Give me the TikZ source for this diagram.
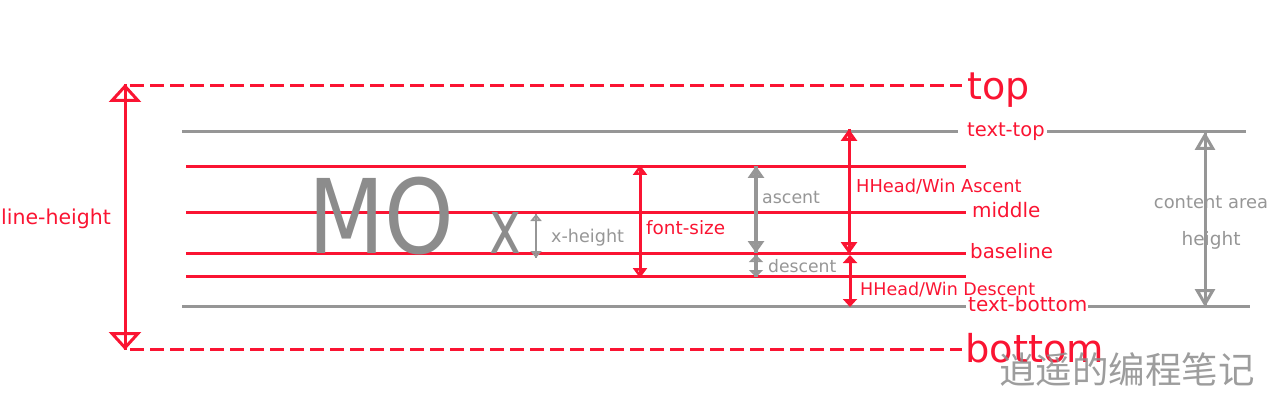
\documentclass[tikz,border=0pt]{standalone}
\usepackage{fontspec}
\setmainfont{DejaVu Sans}
\newfontfamily\cjk{Noto Sans CJK SC}
\usetikzlibrary{arrows.meta}
\definecolor{lred}{RGB}{250,20,50}
\definecolor{lgray}{RGB}{150,150,150}
\definecolor{mogray}{RGB}{140,140,140}
\tikzset{
  redln/.style={draw=lred, line width=3pt},
  grayln/.style={draw=lgray, line width=3pt},
  dashln/.style={draw=lred, line width=3pt, dash pattern=on 14pt off 6pt},
  lbl/.style={inner sep=0pt, anchor=base west, font=\fontsize{#1}{#1}\selectfont},
  lbl/.default=19,
}
\begin{document}
\begin{tikzpicture}[x=1pt,y=-1pt]
\useasboundingbox (0,0) rectangle (1275,409);
% coordinates of lines
\coordinate (topL) at (130,86);   \coordinate (topR) at (962,86);
\coordinate (ttL) at (182,132);   \coordinate (ttR) at (958,132);
\coordinate (ttL2) at (1047,132); \coordinate (ttR2) at (1246,132);
\coordinate (asL) at (186,167);   \coordinate (asR) at (966,167);
\coordinate (mdL) at (186,212);   \coordinate (mdR) at (966,212);
\coordinate (blL) at (186,253);   \coordinate (blR) at (966,253);
\coordinate (dsL) at (186,276);   \coordinate (dsR) at (966,276);
\coordinate (tbL) at (182,306);   \coordinate (tbR) at (966,306);
\coordinate (tbL2) at (1088,306); \coordinate (tbR2) at (1250,306);
\coordinate (btL) at (130,349);   \coordinate (btR) at (962,349);

\draw[dashln] (topL) -- (topR);
\draw[dashln] (btL) -- (btR);
\draw[grayln] (ttL) -- (ttR);
\draw[grayln] (ttL2) -- (ttR2);
\draw[grayln] (tbL) -- (tbR);
\draw[grayln] (tbL2) -- (tbR2);
\draw[redln] (asL) -- (asR);
\draw[redln] (mdL) -- (mdR);
\draw[redln] (blL) -- (blR);
\draw[redln] (dsL) -- (dsR);

% MO and x
\node[inner sep=0pt, anchor=base west, text=mogray] (mo) at (308,253)
  {\fontsize{103}{103}\selectfont\scalebox{0.86}[1]{MO}};
\node[inner sep=0pt, anchor=base west, text=mogray] (xx) at (489,253)
  {\fontsize{75}{75}\selectfont\scalebox{0.72}[1]{x}};

% line-height arrow
\coordinate (lh1) at (125,84); \coordinate (lh2) at (125,350);
\draw[redln] (lh1) -- (lh2);
\draw[redln, line join=round, {Triangle[open,length=18pt,width=32pt]}-{Triangle[open,length=18pt,width=32pt]}] (lh1) -- (lh2);
\node[lbl=20.5, text=lred] (lht) at (1,225) {line-height};

% x-height arrow
\coordinate (xh1) at (536,214); \coordinate (xh2) at (536,258);
\draw[draw=lgray, line width=2.2pt] (xh1) -- (xh2);
\draw[draw=lgray, line width=2.2pt, {Triangle[open,length=7pt,width=11pt]}-{Triangle[open,length=7pt,width=11pt]}] (xh1) -- (xh2);
\node[lbl=17.6, text=lgray] (xht) at (551,242) {x-height};

% font-size arrow
\coordinate (fs1) at (640,165); \coordinate (fs2) at (640,278);
\draw[redln] (fs1) -- (fs2);
\draw[redln, {Triangle[open,length=10pt,width=14pt]}-{Triangle[open,length=10pt,width=14pt]}] (fs1) -- (fs2);
\node[lbl=18.4, text=lred] (fst) at (646,234) {font-size};

% ascent arrow
\coordinate (ac1) at (756,166); \coordinate (ac2) at (756,253);
\draw[draw=lgray, line width=3.2pt] (ac1) -- (ac2);
\draw[draw=lgray, line width=3.2pt, {Triangle[open,length=12pt,width=16pt]}-{Triangle[open,length=12pt,width=16pt]}] (ac1) -- (ac2);
\node[lbl=17.4, text=lgray] (act) at (762,204) {ascent};

% descent arrow
\coordinate (dc1) at (756,255); \coordinate (dc2) at (756,277);
\draw[draw=lgray, line width=3.2pt] (dc1) -- (dc2);
\draw[draw=lgray, line width=3.2pt, {Triangle[open,length=7pt,width=14pt]}-{Triangle[open,length=7pt,width=14pt]}] (dc1) -- (dc2);
\node[lbl=17.2, text=lgray] (dct) at (768,272) {descent};

% HHead/Win Ascent arrow
\coordinate (ha1) at (849,129); \coordinate (ha2) at (849,254);
\draw[redln] (ha1) -- (ha2);
\draw[redln, {Triangle[open,length=12pt,width=16pt]}-{Triangle[open,length=12pt,width=16pt]}] (ha1) -- (ha2);
\node[lbl=17.8, text=lred] (hat) at (856,193) {HHead/Win Ascent};

% HHead/Win Descent arrow
\coordinate (hd1) at (850,255); \coordinate (hd2) at (850,307);
\draw[redln, {Triangle[length=8pt,width=14pt]}-{Triangle[length=8pt,width=14pt]}] (hd1) -- (hd2);
\node[lbl=17.5, text=lred] (hdt) at (860,295) {HHead/Win Descent};

% content area arrow
\coordinate (ca1) at (1205,132); \coordinate (ca2) at (1205,307);
\draw[grayln] (ca1) -- (ca2);
\draw[grayln, {Triangle[open,length=18pt,width=20pt]}-{Triangle[open,length=18pt,width=20pt]}] (ca1) -- (ca2);
\node[inner sep=0pt, anchor=base, text=lgray, font=\fontsize{17.9}{17.9}\selectfont] (cat) at (1211,208) {content area};
\node[inner sep=0pt, anchor=base, text=lgray, font=\fontsize{18.5}{18.5}\selectfont] (cah) at (1211,245) {height};

% right labels
\node[lbl=38, text=lred] (topt) at (967,100) {top};
\node[lbl=19.5, text=lred] (ttt) at (967,137) {text-top};
\node[lbl=20, text=lred] (mdt) at (972,217) {middle};
\node[lbl=19.8, text=lred] (blt) at (970,258) {baseline};
\node[lbl=20, text=lred] (tbt) at (968,311) {text-bottom};
\node[lbl=38.4, text=lred] (btt) at (965,362) {bottom};

% watermark
\node[inner sep=0pt, anchor=base west, text=mogray, opacity=0.85, font=\cjk\fontsize{36.5}{36.5}\selectfont] (wm) at (999,383) {逍遥的编程笔记};
\end{tikzpicture}
\end{document}
